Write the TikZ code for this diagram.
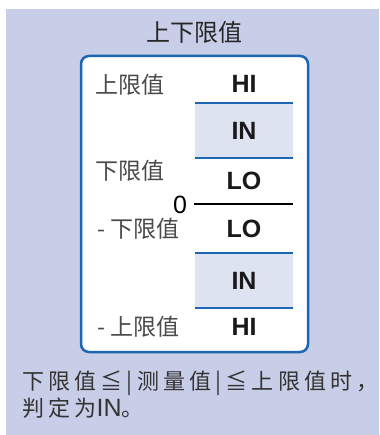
\documentclass[tikz,border=0pt]{standalone}
\usepackage{fontspec}
\setmainfont{Liberation Sans}
\newfontfamily\cjk{Noto Sans CJK SC}
\newfontfamily\cjkwide[LetterSpace=19]{Noto Sans CJK SC}

\definecolor{bgblue}{HTML}{C8CEE8}
\definecolor{frameblue}{HTML}{1C66B2}
\definecolor{inshade}{HTML}{DEE3F2}
\definecolor{labelgray}{HTML}{4A4A4A}

\begin{document}
\begin{tikzpicture}[x=1pt,y=-1pt]

% ---------- styles ----------
\tikzset{
  zone/.style={font=\fontsize{25}{25}\selectfont\bfseries, text=black!90, inner sep=0pt},
  limit/.style={font=\cjk\fontsize{23}{23}\selectfont, text=labelgray, inner sep=0pt, anchor=west},
  bound/.style={frameblue, line width=2.5pt},
  note/.style={font=\cjkwide\fontsize{22}{22}\selectfont, text=black!80, inner sep=0pt, anchor=west}
}

% ---------- background ----------
\useasboundingbox (0,0) rectangle (379,435);
\fill[bgblue] (6,9) rectangle (379,435);

% ---------- title ----------
\node[font=\cjk\fontsize{24}{24}\selectfont, text=black!85] (title) at (194,32) {上下限值};

% ---------- frame ----------
\draw[frameblue, line width=2.5pt, fill=white, rounded corners=8pt]
  (81,56) rectangle (308,352);

% ---------- IN bands ----------
\coordinate (upTop) at (195,103);
\coordinate (upBot) at (293,158);
\coordinate (lowTop) at (195,253);
\coordinate (lowBot) at (293,308);
\fill[inshade] (upTop) rectangle (upBot);
\fill[inshade] (lowTop) rectangle (lowBot);
\draw[bound] (upTop) -- (upTop -| upBot);
\draw[bound] (upTop |- upBot) -- (upBot);
\draw[bound] (lowTop) -- (lowTop -| lowBot);
\draw[bound] (lowTop |- lowBot) -- (lowBot);

% ---------- zero line ----------
\node[font=\fontsize{25}{25}\selectfont, inner sep=0pt] (zero) at (180,205) {0};
\coordinate (zeroEnd) at (293,204);
\draw[line width=2.5pt] (zero.east |- zeroEnd) ++(7,0) -- (zeroEnd);

% ---------- zones ----------
\node[zone] (hiUp) at (244,84) {HI};
\node[zone] (inUp) at (244,131) {IN};
\node[zone] (loUp) at (244,181) {LO};
\node[zone] (loDown) at (244,229) {LO};
\node[zone] (inDown) at (244,281) {IN};
\node[zone] (hiDown) at (244,327) {HI};

% ---------- limits ----------
\node[limit] (upper) at (95,85) {上限值};
\node[limit] (lower) at (95,171) {下限值};
\node[limit] (negLower) at (97,229) {- 下限值};
\node[limit] (negUpper) at (97,327) {- 上限值};

% ---------- note ----------
\node[note] (rule) at (22,383) {下限值≦|测量值|≦上限值时，};
\node[note] (verdict) at (22,408)
  {判定为\fontspec{Liberation Sans}\fontsize{25}{25}\selectfont IN\cjkwide\fontsize{22}{22}\selectfont。};

\end{tikzpicture}
\end{document}
